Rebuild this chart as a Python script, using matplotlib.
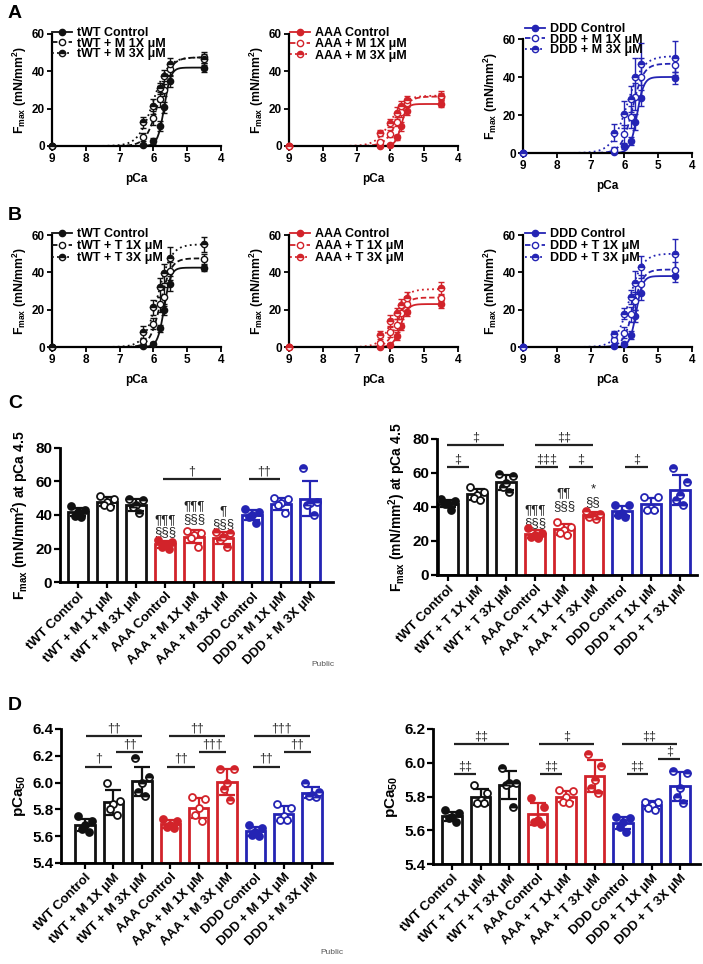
import numpy as np
import matplotlib.pyplot as plt
from matplotlib.lines import Line2D

plt.rcParams['font.family'] = ['Liberation Sans', 'DejaVu Sans']
plt.rcParams['font.weight'] = 'bold'
plt.rcParams['axes.labelweight'] = 'bold'
plt.rcParams['mathtext.fontset'] = 'custom'
plt.rcParams['mathtext.rm'] = 'Liberation Sans:bold'
plt.rcParams['mathtext.bf'] = 'Liberation Sans:bold'
plt.rcParams['mathtext.default'] = 'rm'

BLACK = '#111111'
RED = '#d2232a'
BLUE = '#2424b4'

# ---- force-pCa curves (A: M drug, B: T drug) ----
pca = [9.0, 6.3, 6.0, 5.8, 5.7, 5.5, 4.5]

a_twt_f = [[0, 0.5, 2.8, 10.7, 20.8, 34.7, 42.0],
           [0, 4.8, 15.0, 25.0, 30.0, 41.0, 47.5],
           [0, 12.8, 21.4, 31.0, 37.7, 44.0, 46.5]]
a_twt_e = [[0, 0.5, 1.5, 2.5, 3, 3, 2.5],
           [0, 2, 4, 4, 3, 3, 3],
           [0, 3, 4, 3, 3, 3, 3]]
a_twt_fit = [[42.0, 5.68, 4.5], [47.5, 5.85, 2.4], [47.5, 6.01, 2.0]]

a_aaa_f = [[0, 0, 0.5, 4.6, 10.5, 19.0, 22.5],
           [0, 2, 6.6, 13.0, 18.0, 23.0, 26.5],
           [0, 7, 12.3, 17.7, 21.6, 24.5, 27.0]]
a_aaa_e = [[0, 0.3, 0.5, 1.5, 2.5, 2.5, 1.5],
           [0, 1, 2, 2.5, 2.5, 2, 2],
           [0, 1.5, 2, 3, 2.5, 2.5, 2.5]]
a_aaa_fit = [[22.5, 5.68, 5.0], [26.5, 5.81, 2.5], [27.0, 5.99, 2.0]]

a_ddd_f = [[0, 0.5, 3.7, 6.4, 16.3, 29.0, 39.5],
           [0, 1.8, 10.0, 19.0, 29.7, 40.0, 46.5],
           [0, 10.6, 20.4, 28.5, 40.0, 47.0, 50.0]]
a_ddd_e = [[0, 0.5, 1.5, 2, 4, 4, 3],
           [0, 1.5, 5, 6, 7, 10, 4],
           [0, 4.5, 7, 7, 10, 11, 9]]
a_ddd_fit = [[40.0, 5.63, 4.3], [47.0, 5.76, 2.7], [51.0, 5.92, 1.9]]

b_twt_f = [[0, 0.3, 1.5, 10.0, 20.0, 34.0, 42.5],
           [0, 3.0, 12.5, 23.0, 27.0, 40.7, 47.0],
           [0, 8.0, 21.4, 32.0, 39.5, 47.5, 55.0]]
b_twt_e = [[0, 0.3, 1, 2, 3, 4, 2],
           [0, 1.5, 3, 4, 5, 5, 3],
           [0, 3, 4, 5, 5, 6, 4]]
b_twt_fit = [[42.5, 5.68, 4.5], [47.5, 5.79, 2.8], [55.0, 5.87, 2.2]]

b_aaa_f = [[0, 0.2, 1.0, 6.0, 11.0, 19.0, 23.0],
           [0, 2.0, 8.0, 12.0, 18.0, 23.0, 26.5],
           [0, 6.5, 14.0, 18.0, 22.5, 26.5, 31.5]]
b_aaa_e = [[0, 0.3, 1, 2, 2, 2.5, 2],
           [0, 1, 2.5, 3, 3, 3, 2],
           [0, 2, 3, 3, 3, 3, 3.5]]
b_aaa_fit = [[23.0, 5.70, 4.0], [26.5, 5.80, 3.0], [31.0, 5.92, 2.3]]

b_ddd_f = [[0, 0.3, 1.5, 6.4, 16.6, 29.0, 38.0],
           [0, 4.0, 7.7, 17.5, 24.6, 33.6, 41.4],
           [0, 6.8, 17.9, 26.8, 34.5, 43.0, 49.8]]
b_ddd_e = [[0, 0.3, 1, 2, 3, 4, 3],
           [0, 1.5, 3, 4, 5, 5, 4],
           [0, 2, 3, 4, 6, 6, 8]]
b_ddd_fit = [[38.0, 5.65, 4.5], [41.5, 5.74, 3.0], [50.0, 5.86, 2.2]]

# ---- bar charts ----
names_m = ['tWT Control', 'tWT + M 1X μM', 'tWT + M 3X μM',
           'AAA Control', 'AAA + M 1X μM', 'AAA + M 3X μM',
           'DDD Control', 'DDD + M 1X μM', 'DDD + M 3X μM']
names_t = [n.replace('+ M', '+ T') for n in names_m]

c_m_pts = [[45.5, 43, 42, 39.5, 39], [51.5, 49.5, 48, 46, 45], [49.5, 49, 46, 45, 41],
           [25, 24, 22.5, 21, 20], [30.5, 29.5, 28, 26, 21], [30, 29, 27, 25, 21],
           [43.5, 41.5, 40, 39, 35.5], [50, 49.5, 47, 46, 41], [68, 48, 47, 46, 40]]
c_t_pts = [[44.5, 43.5, 42, 41.5, 38.5], [52, 49, 47, 45, 44], [59.5, 58.5, 54, 52, 49],
           [27.5, 25, 23.5, 22.5, 21.5], [31.4, 28.5, 26.5, 24.6, 23.6], [37.5, 36, 35, 34, 33],
           [41.3, 40.9, 36.3, 35.4, 34.4], [46, 45.8, 39.3, 38.3, 38], [63, 54.5, 47, 44, 41]]
d_m_pts = [[5.75, 5.71, 5.68, 5.65, 5.63], [6.00, 5.86, 5.84, 5.80, 5.76], [6.18, 6.04, 6.00, 5.93, 5.90],
           [5.73, 5.71, 5.68, 5.67, 5.66], [5.89, 5.88, 5.81, 5.76, 5.71], [6.10, 6.10, 6.00, 5.95, 5.87],
           [5.68, 5.66, 5.63, 5.61, 5.60], [5.84, 5.81, 5.75, 5.72, 5.72], [6.00, 5.93, 5.91, 5.90, 5.89]]
d_t_pts = [[5.72, 5.70, 5.68, 5.67, 5.65], [5.87, 5.82, 5.78, 5.76, 5.76], [5.97, 5.88, 5.88, 5.87, 5.74],
           [5.79, 5.74, 5.66, 5.65, 5.64], [5.84, 5.83, 5.80, 5.77, 5.76], [6.05, 5.98, 5.90, 5.85, 5.82],
           [5.68, 5.67, 5.65, 5.62, 5.59], [5.77, 5.77, 5.75, 5.73, 5.72], [5.95, 5.94, 5.85, 5.80, 5.76]]

# significance bars: (x start, x end, y, symbol)
c_m_sig = [(2.93, 4.92, 61.5, '†'), (5.9, 6.95, 61.5, '††')]
c_t_sig = [(-0.05, 1.94, 76.6, '‡'), (-0.05, 0.74, 63.3, '‡'), (3.0, 5.0, 76.6, '‡‡'),
           (3.0, 3.8, 63.3, '‡‡‡'), (4.17, 5.0, 63.3, '‡'), (6.1, 6.9, 63.3, '‡')]
d_m_sig = [(0.03, 2.0, 6.35, '††'), (0.0, 0.94, 6.12, '†'), (1.09, 2.05, 6.23, '††'),
           (2.97, 4.92, 6.35, '††'), (2.9, 3.87, 6.12, '††'), (4.02, 4.98, 6.23, '†††'),
           (5.94, 7.91, 6.35, '†††'), (5.9, 6.86, 6.12, '††'), (7.0, 7.97, 6.23, '††')]
d_t_sig = [(0.06, 2.0, 6.11, '‡‡'), (0.06, 0.83, 5.935, '‡‡'), (3.04, 4.99, 6.11, '‡'),
           (3.1, 3.86, 5.935, '‡‡'), (5.96, 7.89, 6.11, '‡‡'), (6.13, 6.89, 5.935, '‡‡'),
           (7.24, 8.0, 6.02, '‡')]
# stacked marks above AAA bars: (bar index, text, y of bottom)
c_m_marks = [(3, '¶¶¶\n§§§', 26), (4, '¶¶¶\n§§§', 34), (5, '¶\n§§§', 31)]
c_t_marks = [(3, '¶¶¶\n§§§', 27), (4, '¶¶\n§§§', 37), (5, '*\n§§', 39.5)]

fig = plt.figure(figsize=(7.03, 9.64), dpi=100)
W, H = 703.0, 964.0


def rect(x0, x1, y0, y1):
    return [x0 / W, 1 - y1 / H, (x1 - x0) / W, (y1 - y0) / H]


def curve_panel(r, color, labels, vals, errs, fits, leg_xy, spacing):
    ax = fig.add_axes(r)
    styles = ['-', (0, (3, 1.6)), (0, (1, 1.8))]
    xs = np.linspace(9, 4.5, 400)
    handles = []
    for k in range(3):
        fmax, p50, nh = fits[k]
        ax.plot(xs, fmax / (1 + 10 ** (nh * (xs - p50))), color=color, ls=styles[k], lw=1.3)
        mk = dict(marker='o', ms=4.5, mec=color, mew=1.0, color=color)
        if k == 0:
            mk.update(mfc=color)
        elif k == 1:
            mk.update(mfc='white')
        else:
            mk.update(mfc=color, fillstyle='top', markerfacecoloralt='white')
        ax.errorbar(pca, vals[k], yerr=errs[k], fmt='none', ecolor=color,
                    elinewidth=1.0, capsize=2, capthick=1.0)
        ax.plot(pca, vals[k], ls='none', clip_on=False, zorder=4, **mk)
        handles.append(Line2D([], [], ls=styles[k], lw=1.3, **mk))
    ax.set_xlim(9, 4)
    ax.set_ylim(0, 60)
    ax.set_xticks([9, 8, 7, 6, 5, 4])
    ax.set_yticks([0, 20, 40, 60])
    for s in ['top', 'right']:
        ax.spines[s].set_visible(False)
    for s in ['left', 'bottom']:
        ax.spines[s].set_linewidth(1.6)
    ax.tick_params(width=1.3, length=3.5, labelsize=8.5, pad=1.5)
    ax.set_xlabel('pCa', fontsize=8.5, labelpad=6)
    ax.set_ylabel(r'F$_{max}$ (mN/mm$^{2}$)', fontsize=8.8, labelpad=2)
    ax.legend(handles, labels, loc='upper left', bbox_to_anchor=(leg_xy[0] / W, 1 - leg_xy[1] / H),
              bbox_transform=fig.transFigure, frameon=False, fontsize=9,
              handlelength=1.6, handletextpad=0.4, labelspacing=spacing,
              borderpad=0, borderaxespad=0)
    return ax


def bar_panel(r, xlim, ylim, yticks, names, pts, sig, ylabel, marks=None, fmt='{:.0f}'):
    ax = fig.add_axes(r)
    cols = [BLACK] * 3 + [RED] * 3 + [BLUE] * 3
    offs = [-0.24, 0.24, 0.0, -0.12, 0.12]
    base = ylim[0]
    for i, p in enumerate(pts):
        m = np.mean(p)
        sd = np.std(p, ddof=1)
        c = cols[i]
        ax.bar(i, m - base, bottom=base, width=0.68, color='white', edgecolor=c, lw=2.0, zorder=2)
        ax.errorbar(i, m, yerr=sd, fmt='none', ecolor=c, elinewidth=1.6, capsize=5.5,
                    capthick=1.6, zorder=3)
        mk = dict(marker='o', ms=5.0, mec=c, mew=1.3, ls='none', zorder=4)
        if i % 3 == 0:
            mk.update(mfc=c)
        elif i % 3 == 1:
            mk.update(mfc='white')
        else:
            mk.update(mfc=c, fillstyle='top', markerfacecoloralt='white')
        ax.plot([i + o for o in offs], p, **mk)
    for x0, x1, y, t in sig:
        ax.plot([x0, x1], [y, y], color='#222222', lw=1.6, clip_on=False, solid_capstyle='butt')
        ax.text((x0 + x1) / 2, y + (ylim[1] - ylim[0]) * 0.012, t, ha='center', va='bottom',
                fontsize=9, weight='normal', color='#333333')
    if marks:
        for i, t, y in marks:
            ax.text(i, y, t, ha='center', va='bottom', fontsize=9.5, weight='normal',
                    color='#222222', linespacing=1.05)
    ax.set_xlim(*xlim)
    ax.set_ylim(*ylim)
    ax.set_yticks(yticks)
    ax.set_yticklabels([fmt.format(v) for v in yticks])
    ax.set_xticks(range(9))
    ax.set_xticklabels(names, rotation=45, ha='right', rotation_mode='anchor', fontsize=9.5)
    for s in ['top', 'right']:
        ax.spines[s].set_visible(False)
    for s in ['left', 'bottom']:
        ax.spines[s].set_linewidth(2.0)
    ax.tick_params(axis='y', width=1.6, length=4, labelsize=11, pad=1.5)
    ax.tick_params(axis='x', width=1.6, length=4, pad=2)
    ax.set_ylabel(ylabel, fontsize=11 if 'pCa$_' in ylabel else 10, labelpad=3)
    return ax


# panel A
curve_panel(rect(52, 221, 34, 146), BLACK,
            ['tWT Control', 'tWT + M 1X μM', 'tWT + M 3X μM'], a_twt_f, a_twt_e, a_twt_fit, (52, 27), -0.12)
curve_panel(rect(289, 458, 34, 146), RED,
            ['AAA Control', 'AAA + M 1X μM', 'AAA + M 3X μM'], a_aaa_f, a_aaa_e, a_aaa_fit, (290, 27), -0.05)
curve_panel(rect(523, 692, 39, 153), BLUE,
            ['DDD Control', 'DDD + M 1X μM', 'DDD + M 3X μM'], a_ddd_f, a_ddd_e, a_ddd_fit, (525, 23), -0.1)
# panel B
curve_panel(rect(52, 221, 235, 347), BLACK,
            ['tWT Control', 'tWT + T 1X μM', 'tWT + T 3X μM'], b_twt_f, b_twt_e, b_twt_fit, (52, 228), 0.0)
curve_panel(rect(289, 458, 235, 347), RED,
            ['AAA Control', 'AAA + T 1X μM', 'AAA + T 3X μM'], b_aaa_f, b_aaa_e, b_aaa_fit, (290, 228), 0.0)
curve_panel(rect(523, 692, 235, 347), BLUE,
            ['DDD Control', 'DDD + T 1X μM', 'DDD + T 3X μM'], b_ddd_f, b_ddd_e, b_ddd_fit, (525, 228), 0.0)

# panel C
flab = r'F$_{max}$ (mN/mm$^{2}$) at pCa 4.5'
bar_panel(rect(60, 333, 448, 582), (-0.62, 8.79), (0, 80), [0, 20, 40, 60, 80],
          names_m, c_m_pts, c_m_sig, flab, c_m_marks)
bar_panel(rect(437, 697, 439, 575), (-0.38, 8.59), (0, 80), [0, 20, 40, 60, 80],
          names_t, c_t_pts, c_t_sig, flab, c_t_marks)

# panel D
bar_panel(rect(61, 332, 729, 863), (-0.85, 8.7), (5.4, 6.4), [5.4, 5.6, 5.8, 6.0, 6.2, 6.4],
          names_m, d_m_pts, d_m_sig, r'pCa$_{50}$', fmt='{:.1f}')
bar_panel(rect(433, 700, 729, 864), (-0.67, 8.7), (5.4, 6.2), [5.4, 5.6, 5.8, 6.0, 6.2],
          names_t, d_t_pts, d_t_sig, r'pCa$_{50}$', fmt='{:.1f}')

for lab, y in [('A', 13), ('B', 215), ('C', 403), ('D', 705)]:
    fig.text(8 / W, 1 - y / H, lab, fontsize=14, weight='bold', va='center', ha='left')
fig.text(311 / W, 1 - 664 / H, 'Public', fontsize=6, weight='normal', color='#555555', va='center')
fig.text(320 / W, 1 - 952 / H, 'Public', fontsize=6, weight='normal', color='#555555', va='center')

fig.savefig('out.png', dpi=100)
